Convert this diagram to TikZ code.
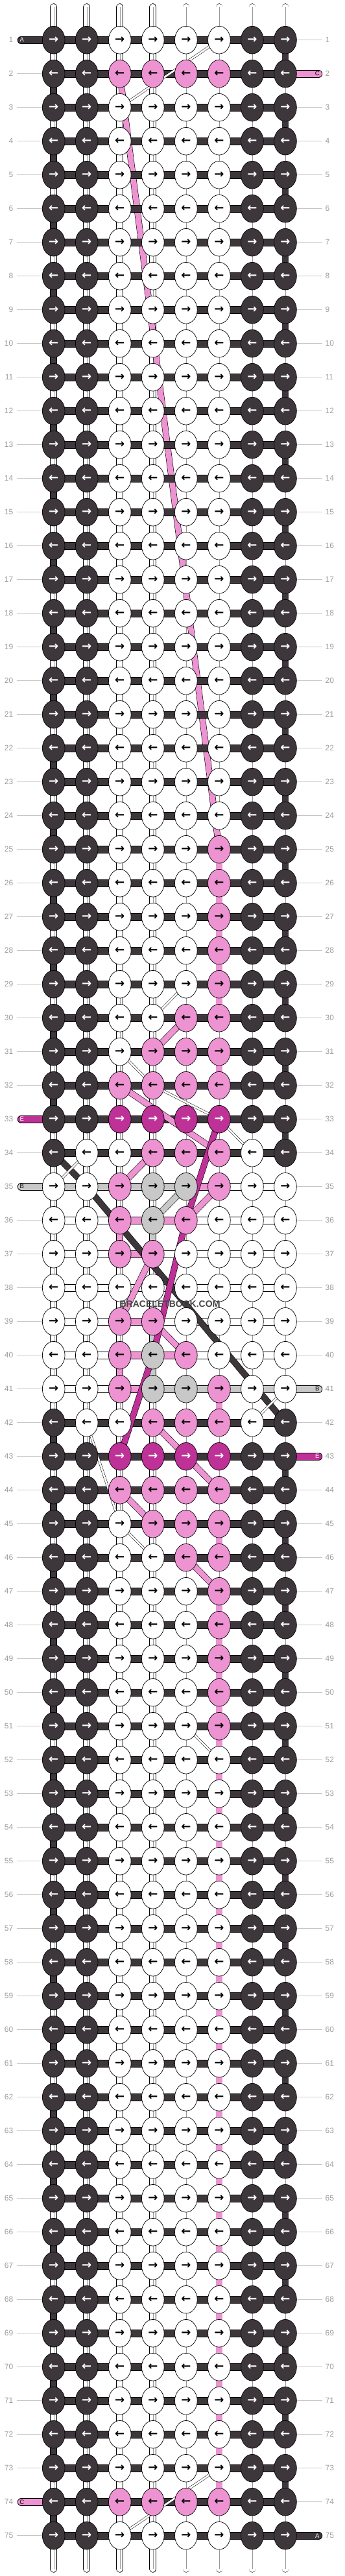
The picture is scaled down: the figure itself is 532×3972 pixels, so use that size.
\documentclass[tikz,border=0pt]{standalone}
\usepackage{fontspec}
\setmainfont{Liberation Sans}
\newfontfamily\arrowfont{DejaVu Sans}
\usetikzlibrary{positioning, shapes.geometric}

\definecolor{ink}{HTML}{3D373C}
\definecolor{rose}{HTML}{EE93D2}
\definecolor{berry}{HTML}{BE3197}
\definecolor{ash}{HTML}{C8C8C8}
\definecolor{guidegray}{HTML}{C6C6C6}
\definecolor{numgray}{HTML}{9C9C9C}

\pgfdeclarelayer{links}
\pgfdeclarelayer{carried}
\pgfdeclarelayer{bars}
\pgfdeclarelayer{crossing}
\pgfsetlayers{links,carried,bars,crossing,main}

\tikzset{
knot/.style={ellipse, draw, line width=0.7pt, minimum width=34.7pt, minimum height=42.7pt, inner sep=0pt, font=\arrowfont\bfseries\fontsize{18}{18}\selectfont}, % sets the properties for each knot
kk/.style={fill=ink, text=white}, % knot in the dark colour
kw/.style={fill=white}, % knot in white
kp/.style={fill=rose}, % knot in pink
km/.style={fill=berry, text=white}, % knot in magenta
kg/.style={fill=ash}, % knot in grey
thread/.style={draw=black, line width=0.7pt, double distance=10.3pt}, % the thread that runs across a row
bk/.style={thread, double=ink},
bw/.style={thread, double=white},
bp/.style={thread, double=rose},
bm/.style={thread, double=berry},
bg/.style={thread, double=ash},
string/.style={draw=black, line width=0.7pt, double distance=9.3pt}, % the strings that run down a column
lk/.style={string, double=ink},
lw/.style={string, double=white},
ld/.style={string, double=white},
lp/.style={string, double=rose},
lg/.style={string, double=ash},
seam/.style={draw=black!40, line width=0.4pt}, % middle line of a pair of white strings
band/.style={draw=black, line width=0.6pt, double distance=8.6pt, line join=round}, % a thread carried behind the knots
strand/.style={draw=black, line width=0.5pt, double=white, double distance=2.8pt}, % a white string moved aside
num/.style={text=numgray, font=\fontsize{12}{12}\selectfont, inner sep=0pt}, % row numbers
guide/.style={draw=guidegray, line width=0.6pt}, % row guide lines
tag/.style={font=\fontsize{9.5}{9.5}\selectfont, inner sep=0pt}, % thread letters
}

% knot colours and row threads that differ from the plain rows
\def\plainknots{k,k,w,w,w,w,k,k}
\def\plainbars{k,k,k,k,k,k,k}
\newcommand\setknots[2]{\expandafter\gdef\csname knots#1\endcsname{#2}}
\newcommand\setbars[2]{\expandafter\gdef\csname bars#1\endcsname{#2}}
\setknots{2}{k,k,p,p,p,p,k,k}
\foreach \r in {25,...,29,47,48,...,51}{\setknots{\r}{k,k,w,w,w,p,k,k}}
\setknots{30}{k,k,w,w,p,p,k,k}
\setknots{31}{k,k,w,p,p,p,k,k}
\setknots{32}{k,k,p,p,p,p,k,k}
\setknots{33}{k,k,m,m,m,m,k,k}
\setknots{34}{k,w,w,p,p,p,w,k}
\setknots{35}{w,w,p,g,g,p,w,w}
\setknots{36}{w,w,p,g,p,w,w,w}
\setknots{37}{w,w,p,p,w,w,w,w}
\setknots{38}{w,w,w,w,w,w,w,w}
\setknots{39}{w,w,p,p,w,w,w,w}
\setknots{40}{w,w,p,g,p,w,w,w}
\setknots{41}{w,w,p,g,g,p,w,w}
\setknots{42}{k,w,w,p,p,p,w,k}
\setknots{43}{k,k,m,m,m,m,k,k}
\setknots{44}{k,k,p,p,p,p,k,k}
\setknots{45}{k,k,w,p,p,p,k,k}
\setknots{46}{k,k,w,w,p,p,k,k}
\setknots{74}{k,k,p,p,p,p,k,k}
\setbars{35}{g,g,g,g,p,w,w}
\setbars{36}{w,w,p,p,w,w,w}
\setbars{37}{w,w,p,w,w,w,w}
\setbars{38}{w,w,w,w,w,w,w}
\setbars{39}{w,w,p,w,w,w,w}
\setbars{40}{w,w,p,p,w,w,w}
\setbars{41}{w,w,p,g,g,g,g}

\newcommand\linkkind[2]{% kind of string below knot #1 in column #2
  \def\lnk{d}%
  \ifnum#2=1 \ifodd#1 \else \ifnum#1<34 \def\lnk{k}\fi \ifnum#1>41 \def\lnk{k}\fi \fi \fi
  \ifnum#2=8 \ifodd#1 \ifnum#1<34 \def\lnk{k}\fi \ifnum#1>41 \def\lnk{k}\fi \fi \fi
  \ifnum#2=3 \ifnum#1>1 \ifnum#1<29 \def\lnk{w}\fi \fi \ifnum#1>44 \def\lnk{w}\fi
    \ifnum#1=36 \def\lnk{p}\fi \ifnum#1=40 \def\lnk{p}\fi \fi
  \ifnum#2=4 \ifnum#1=36 \def\lnk{g}\fi \ifnum#1=39 \def\lnk{g}\fi \ifnum#1=40 \def\lnk{g}\fi \fi
  \ifnum#2=6 \ifnum#1>24 \ifnum#1<30 \def\lnk{p}\fi \fi
    \ifnum#1=31 \def\lnk{p}\fi \ifnum#1=41 \def\lnk{p}\fi \ifnum#1=45 \def\lnk{p}\fi
    \ifnum#1>46 \ifnum#1<74 \def\lnk{p}\fi \fi \fi
}

\begin{document}
\begin{tikzpicture}[x=1pt, y=-1pt]
\useasboundingbox (0,0) rectangle (532,3972);

\foreach \r in {1,...,75}{
  \ifcsname knots\r\endcsname \edef\pat{\csname knots\r\endcsname}\else \let\pat\plainknots \fi
  \foreach \s [count=\c] in \pat
    \node[knot, k\s] (k-\r-\c) at ({31.66+51.04*\c}, {9.7+52*\r}) {\ifodd\r \char"2192\else \char"2190\fi};
  \node[num, anchor=east] (nl-\r) at (20.5, {9.7+52*\r}) {\r};
  \node[num, anchor=west] (nr-\r) at (501.5, {9.7+52*\r}) {\r};
}

\begin{pgfonlayer}{links}
\foreach \r in {1,...,75}{
  \draw[guide] ([xshift=5.5pt]nl-\r.east) -- (k-\r-1.west);
  \draw[guide] (k-\r-8.east) -- ([xshift=-4.5pt]nr-\r.west);
}
\foreach \c in {1,...,8}{
  \coordinate (top-\c) at ({31.66+51.04*\c}, 10.6);
  \coordinate (end-\c) at ({31.66+51.04*\c}, 3961.3);
  \draw[ld, line cap=round] (top-\c) -- (k-1-\c.center);
  \draw[seam] (top-\c) -- (k-1-\c.center);
  \draw[ld, line cap=round] (k-75-\c.center) -- (end-\c);
  \draw[seam] (k-75-\c.center) -- (end-\c);
}
\foreach \r [evaluate=\r as \n using int(\r+1)] in {1,...,74}{
  \foreach \c in {1,...,8}{
    \linkkind{\r}{\c}
    \draw[l\lnk] (k-\r-\c.center) -- (k-\n-\c.center);
    \if d\lnk \draw[seam] (k-\r-\c.center) -- (k-\n-\c.center); \fi
  }
}
\end{pgfonlayer}

\begin{pgfonlayer}{carried}
\draw[band, double=rose] (k-2-3.center) -- (k-25-6.center);
\end{pgfonlayer}

\begin{pgfonlayer}{bars}
\foreach \r in {1,...,75}{
  \ifcsname bars\r\endcsname \edef\pat{\csname bars\r\endcsname}\else \let\pat\plainbars \fi
  \foreach \s [count=\c] in \pat {
    \pgfmathtruncatemacro\d{\c+1}
    \draw[b\s] (k-\r-\c.center) -- (k-\r-\d.center);
  }
}
\coordinate (tail-1) at (32.6, 61.7);
\coordinate (tail-2) at (491.4, 113.7);
\coordinate (tail-33) at (32.6, 1725.7);
\coordinate (tail-35) at (32.6, 1829.7);
\coordinate (tail-41) at (491.4, 2141.7);
\coordinate (tail-43) at (491.4, 2245.7);
\coordinate (tail-74) at (32.6, 3857.7);
\coordinate (tail-75) at (491.4, 3909.7);
\draw[bk, line cap=round] (tail-1) -- (k-1-1.center);
\draw[bp, line cap=round] (k-2-8.center) -- (tail-2);
\draw[bm, line cap=round] (tail-33) -- (k-33-1.center);
\draw[bg, line cap=round] (tail-35) -- (k-35-1.center);
\draw[bg, line cap=round] (k-41-8.center) -- (tail-41);
\draw[bm, line cap=round] (k-43-8.center) -- (tail-43);
\draw[bp, line cap=round] (tail-74) -- (k-74-1.center);
\draw[bk, line cap=round] (k-75-8.center) -- (tail-75);
\end{pgfonlayer}

\begin{pgfonlayer}{crossing}
\foreach \a/\b in {30-5/31-4, 32-3/34-6, 34-4/35-3, 35-6/36-5, 37-4/39-3, 39-4/40-5, 42-4/44-6, 44-3/45-4, 46-5/47-6}
  \draw[band, double=rose] (k-\a.center) -- (k-\b.center);
\draw[band, double=ash] (k-35-5.center) -- (k-36-4.center);
\draw[band, double=ink] (k-34-1.center) -- (k-35-2.center) -- (k-42-8.center);
\draw[band, double=berry] (k-33-6.center) -- (k-36-5.center) -- (k-40-4.center) -- (k-43-3.center);
\foreach \a/\b in {1-6/3-3, 73-6/75-3, 29-5/30-4, 31-3/32-4, 32-4/33-6, 33-6/34-7, 34-2/35-1, 41-8/42-7, 42-2/45-3, 45-3/46-4, 51-5/52-6}
  \draw[strand] (k-\a.center) -- (k-\b.center);
\end{pgfonlayer}

\node[tag, text=white] (tag-1) at (33.7, 61.7) {A};
\node[tag] (tag-2) at (489.3, 113.7) {C};
\node[tag, text=white] (tag-33) at (33.7, 1725.7) {E};
\node[tag] (tag-35) at (33.7, 1829.7) {B};
\node[tag] (tag-41) at (489.3, 2141.7) {B};
\node[tag, text=white] (tag-43) at (489.3, 2245.7) {E};
\node[tag] (tag-74) at (33.7, 3857.7) {C};
\node[tag, text=white] (tag-75) at (489.3, 3909.7) {A};
\node[font=\bfseries\fontsize{14}{14}\selectfont, text=black!72] (mark) at (262, 2011) {BRACELETBOOK.COM};
\end{tikzpicture}
\end{document}
